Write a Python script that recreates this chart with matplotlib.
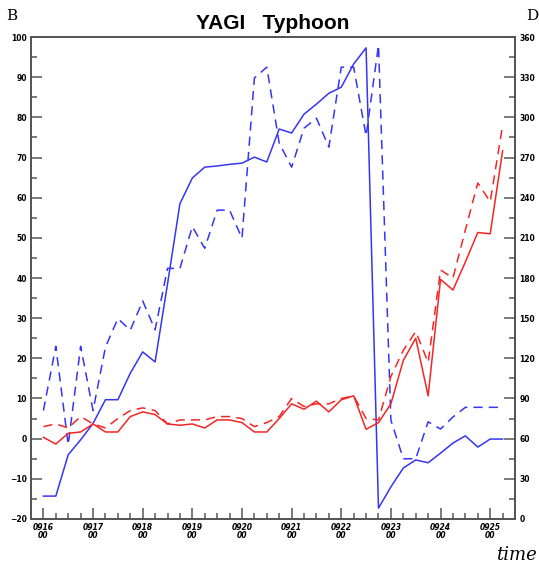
import matplotlib.pyplot as plt
import numpy as np

# 6-hourly steps, hours from 0916 00 UTC
hours = np.arange(0, 38) * 6

day_labels = ['0916', '0917', '0918', '0919', '0920',
              '0921', '0922', '0923', '0924', '0925']

# B series (left axis)
b_solid = [-14.3, -14.3, -4.0, -0.3, 3.8, 9.7, 9.7, 16.3, 21.6, 19.1,
           38.5, 58.5, 64.9, 67.6, 67.9, 68.3, 68.6, 70.1, 68.9, 77.1,
           76.1, 80.8, 83.3, 86.0, 87.5, 93.3, 97.3, -17.3, -12.0, -7.3,
           -5.3, -6.0, -3.6, -1.1, 0.7, -2.1, -0.1, -0.1]
b_dash = [7.0, 23.0, -1.5, 23.0, 7.0, 22.8, 29.9, 27.0, 34.3, 27.1,
          42.4, 42.4, 52.8, 47.4, 56.9, 56.9, 49.9, 89.8, 92.5, 73.6,
          67.6, 77.3, 79.8, 72.6, 92.5, 92.5, 75.4, 98.0, 4.6, -5.0,
          -5.0, 4.2, 2.4, 5.4, 7.8, 7.8, 7.8, 7.8]

# D series (right axis)
d_solid = [61, 56, 64, 65, 71, 65, 65, 76.5, 80, 78,
           71, 70, 71, 68, 74, 74, 72, 65, 65, 75,
           86, 82, 88, 80, 89, 92, 67, 72, 86, 118.5,
           135, 92, 179, 171, 192, 214, 213, 275]
d_dash = [69, 71, 68, 76.5, 71, 68, 75, 81, 83, 81,
          71, 74, 74, 74, 76.5, 76.5, 75, 69, 72, 76.5,
          90, 84, 86, 86, 90, 92, 75, 74, 106.5, 126,
          140, 117, 186, 180, 216, 251, 237, 294]

blue = '#3535f5'
red = '#f52525'
spine_col = '#555555'

fig = plt.figure(figsize=(5.39, 5.69), dpi=100)
ax = fig.add_axes([0.0575, 0.0879, 0.898, 0.847])
ax2 = ax.twinx()

ax.plot(hours, b_solid, color=blue, lw=1.1)
ax.plot(hours, b_dash, color=blue, lw=1.1, dashes=(6, 4))
ax2.plot(hours, d_solid, color=red, lw=1.1)
ax2.plot(hours, d_dash, color=red, lw=1.1, dashes=(6, 4))

ax.set_xlim(-6, 228)
ax.set_ylim(-20, 100)
ax2.set_ylim(0, 360)

ax.set_xticks(np.arange(0, 217, 24))
ax.set_xticks(np.arange(0, 228, 6), minor=True)
ax.set_xticklabels([d + '\n00' for d in day_labels], fontsize=5.5,
                   fontweight='bold', fontstyle='italic', linespacing=0.9)
ax.set_yticks(np.arange(-20, 101, 10))
ax.set_yticks(np.arange(-20, 101, 5), minor=True)
ax2.set_yticks(np.arange(0, 361, 30))
ax2.set_yticks(np.arange(0, 361, 15), minor=True)

for a in (ax, ax2):
    for s in a.spines.values():
        s.set_color(spine_col)
        s.set_linewidth(1.3)
    a.tick_params(which='major', direction='in', length=8, width=1.1,
                  color=spine_col, labelsize=5.5, pad=3)
    a.tick_params(which='minor', direction='in', length=4, width=1.1,
                  color=spine_col)
for lab in ax.get_yticklabels() + ax2.get_yticklabels():
    lab.set_fontweight('bold')

ax.set_title('YAGI   Typhoon', fontsize=15, fontweight='bold',
             family='Liberation Sans', pad=6)
fig.text(0.012, 0.972, 'B', fontsize=11, family='DejaVu Serif', va='center')
fig.text(0.977, 0.972, 'D', fontsize=11, family='DejaVu Serif', va='center')
fig.text(0.995, 0.025, 'time', fontsize=13, family='DejaVu Serif',
         fontstyle='italic', ha='right', va='center')

fig.savefig('out.png', dpi=100)
